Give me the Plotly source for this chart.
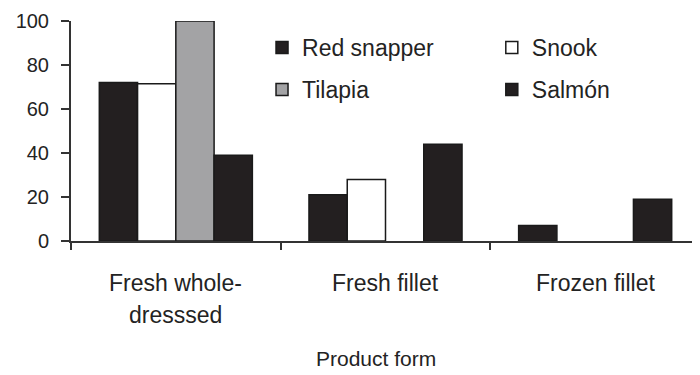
import plotly.graph_objects as go

categories = ["Fresh whole-dresssed", "Fresh fillet", "Frozen fillet"]
category_label_lines = [["Fresh whole-", "dresssed"], ["Fresh fillet"], ["Frozen fillet"]]
series_names = ["Red snapper", "Snook", "Tilapia", "Salmón"]
red_snapper = [72, 21, 7]
snook = [71.5, 28, None]
tilapia = [100, None, None]
salmon = [39, 44, 19]
y_ticks = [0, 20, 40, 60, 80, 100]
x_title = "Product form"

series_values = [red_snapper, snook, tilapia, salmon]
fills = ["#231f20", "#ffffff", "#a3a3a5", "#231f20"]
legends = ["legend", "legend2", "legend", "legend2"]

FONT = "Liberation Sans, Arial, sans-serif"
TXT = "#232323"

fig = go.Figure()
for name, vals, fill, lg in zip(series_names, series_values, fills, legends):
    fig.add_trace(go.Bar(
        x=categories, y=vals, name=name, legend=lg, legendgroup=name,
        marker=dict(color=fill, line=dict(color="#1a1a1a", width=1.5)),
    ))

annotations = []
line_y = [-0.191, -0.336]
for cat, lines in zip(categories, category_label_lines):
    for i, ln in enumerate(lines):
        annotations.append(dict(
            x=cat, y=line_y[i], xref="x", yref="paper", text=ln, showarrow=False,
            xanchor="center", yanchor="middle", font=dict(size=23, color=TXT, family=FONT)))
annotations.append(dict(
    x=0.485, y=-0.532, xref="paper", yref="paper", text=x_title, showarrow=False,
    xanchor="center", yanchor="middle", font=dict(size=21, color=TXT, family=FONT)))

legend_common = dict(
    orientation="v", xanchor="left", yanchor="top", bgcolor="rgba(0,0,0,0)",
    font=dict(size=23, color=TXT, family=FONT), tracegroupgap=9,
)

fig.update_layout(
    width=692, height=367,
    margin=dict(l=63, r=0, t=13, b=134),
    paper_bgcolor="white", plot_bgcolor="white",
    barmode="group", bargap=0.27, bargroupgap=0,
    font=dict(family=FONT, color=TXT, size=20),
    legend=dict(x=0.3037, y=0.977, **legend_common),
    legend2=dict(x=0.669, y=0.977, **legend_common),
    annotations=annotations,
    xaxis=dict(
        type="category", range=[-0.5, 2.5], tickson="boundaries",
        ticks="outside", ticklen=7, tickwidth=1.5, tickcolor="#333",
        showline=True, linecolor="#333", linewidth=2,
        showticklabels=False, showgrid=False, zeroline=False,
    ),
    yaxis=dict(
        range=[0, 100], tickvals=y_ticks, ticks="outside", ticklen=8,
        tickwidth=1.5, tickcolor="#333", showline=True, linecolor="#333",
        linewidth=2, showgrid=False, zeroline=False, ticklabelstandoff=8,
        tickfont=dict(size=20, color=TXT, family=FONT),
    ),
)

fig.write_html("out.html")
